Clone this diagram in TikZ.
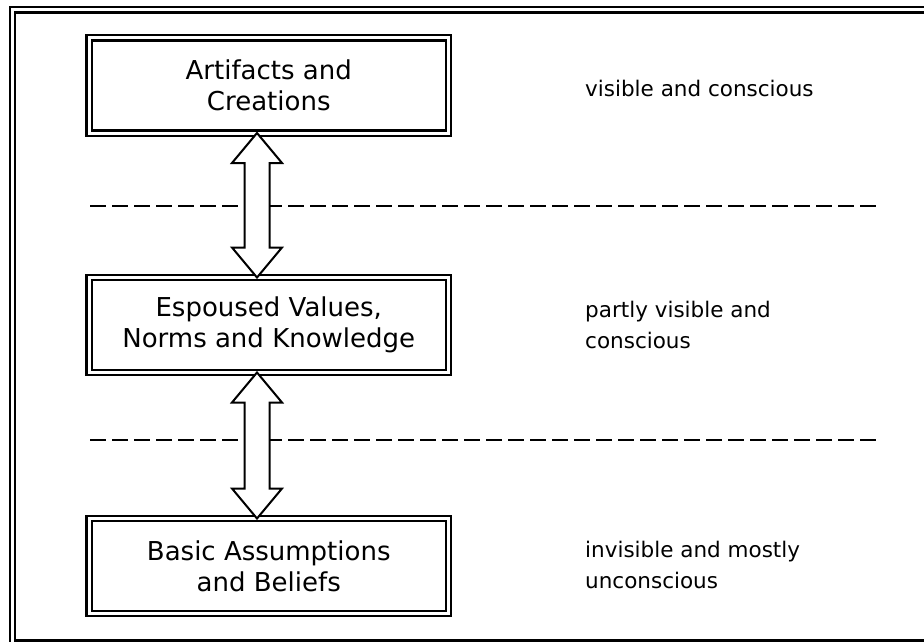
\documentclass[tikz,border=0pt]{standalone}
\usepackage{fontspec}
\setmainfont{DejaVu Sans}
\usetikzlibrary{calc}

\tikzset{
  layerbox/.style={draw, line width=2.4pt, double, double distance=3pt,
    minimum width=359.5pt, minimum height=95pt, inner sep=0pt, outer sep=0pt,
    align=center, font=\fontsize{26}{31}\selectfont},
  sidetext/.style={anchor=west, align=left, inner sep=0pt,
    font=\fontsize{21.5}{31}\selectfont},
  divider/.style={line width=2pt, dash pattern=on 16pt off 6pt},
  fatarrow/.style={draw, fill=white, line width=2pt, line join=miter},
  frame/.style={draw, line width=2.4pt, double, double distance=3pt}
}

% hollow double-headed block arrow between two points (tip to tip)
\newcommand{\blockarrow}[2]{%
  \draw[fatarrow] (#1) -- ($(#1)+(25,30)$) -- ($(#1)+(12.5,30)$)
    -- ($(#2)+(12.5,-30)$) -- ($(#2)+(25,-30)$) -- (#2)
    -- ($(#2)+(-25,-30)$) -- ($(#2)+(-12.5,-30)$)
    -- ($(#1)+(-12.5,30)$) -- ($(#1)+(-25,30)$) -- cycle;}

\begin{document}
\begin{tikzpicture}[x=1pt, y=-1pt]
  \useasboundingbox (0,0) rectangle (924,642);
  \clip (0,0) rectangle (924,642);

  % surrounding frame (runs past the right and bottom edges)
  \draw[frame] (12.5,10) rectangle (935,643);

  % the three layers
  \node[layerbox] (b1) at (268.75,85.5) {Artifacts and\\Creations};
  \node[layerbox] (b2) at (268.75,325)  {Espoused Values,\\Norms and Knowledge};
  \node[layerbox] (b3) at (268.75,566)  {Basic Assumptions\\and Beliefs};

  % descriptions on the right
  \node[sidetext] (d1) at (585,88)  {visible and conscious};
  \node[sidetext] (d2) at (585,325) {partly visible and\\conscious};
  \node[sidetext] (d3) at (585,565) {invisible and mostly\\unconscious};

  % dashed separators
  \draw[divider] (90,205.5) -- (878,205.5);
  \draw[divider] (90,440) -- (878,440);

  % arrows between layers
  \coordinate (ax) at (257,0);
  \coordinate (a1t) at (b1.south -| ax);
  \coordinate (a1b) at (b2.north -| ax);
  \coordinate (a2t) at (b2.south -| ax);
  \coordinate (a2b) at (b3.north -| ax);
  \blockarrow{a1t}{a1b}
  \blockarrow{a2t}{a2b}
\end{tikzpicture}
\end{document}
